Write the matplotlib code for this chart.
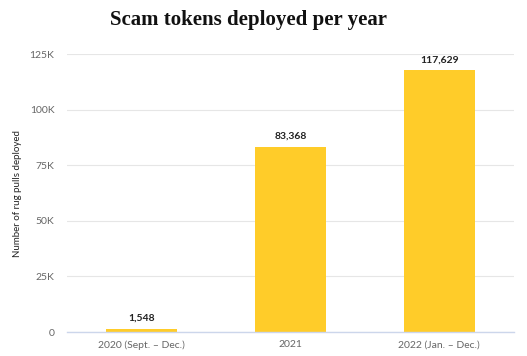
import matplotlib
matplotlib.use("Agg")
import matplotlib.pyplot as plt
from matplotlib.ticker import FuncFormatter

categories = ["2020 (Sept. – Dec.)", "2021", "2022 (Jan. – Dec.)"]
values = [1548, 83368, 117629]
yticks = [0, 25000, 50000, 75000, 100000, 125000]

plt.rcParams["font.family"] = ["Lato", "DejaVu Sans"]

fig = plt.figure(figsize=(5.27, 3.56), dpi=100)
ax = fig.add_axes([0.127, 0.0674, 0.848, 0.7806])

x = list(range(len(categories)))
bars = ax.bar(x, values, width=0.48, color="#FFCC29", zorder=3)
for xi, v in zip(x, values):
    ax.text(xi, v + 2500, f"{v:,}", ha="center", va="bottom",
            fontsize=7.5, fontweight="bold", color="#222222", zorder=4)

ax.set_xlim(-0.5, 2.5)
ax.set_ylim(0, 125000)
ax.set_yticks(yticks)
ax.yaxis.set_major_formatter(FuncFormatter(lambda v, p: "0" if v == 0 else f"{int(v/1000)}K"))
ax.set_xticks(x)
ax.set_xticklabels(categories)
ax.tick_params(axis="both", length=0, labelsize=7.5, labelcolor="#666666")
ax.tick_params(axis="y", pad=9)
ax.tick_params(axis="x", pad=6)
ax.grid(axis="y", color="#e6e6e6", linewidth=0.8, zorder=0)
for s in ["top", "right", "left"]:
    ax.spines[s].set_visible(False)
ax.spines["bottom"].set_color("#ccd6eb")
ax.spines["bottom"].set_linewidth(1)
ax.spines["bottom"].set_zorder(5)

ax.set_ylabel("Number of rug pulls deployed", fontsize=7, color="#222222")
ax.yaxis.set_label_coords(-0.1, 0.5)

fig.text(0.472, 0.944, "Scam tokens deployed per year", ha="center", va="center",
         fontsize=15, fontweight="bold", family="Liberation Serif", color="#111111")

fig.savefig("out.png", dpi=100)
